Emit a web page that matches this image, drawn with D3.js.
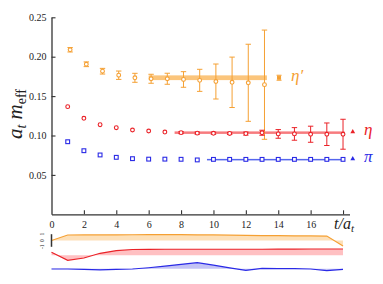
<!DOCTYPE html>
<html>
<head>
<meta charset="utf-8">
<script src="https://cdn.jsdelivr.net/npm/d3@7"></script>
<style>
body { margin: 0; background: #fff; }
text { font-family: "Liberation Serif", "DejaVu Serif", serif; }
</style>
</head>
<body>
<div id="chart-area"></div>
<script>
// effective masses vs t
var tVals = [1, 2, 3, 4, 5, 6, 7, 8, 9, 10, 11, 12, 13, 14, 15, 16, 17, 18];

var etapVals = [0.2088, 0.1904, 0.1816, 0.1765, 0.1732, 0.1720, 0.1720, 0.1711, 0.1700, 0.1685, 0.1675, 0.1669, 0.1645];
var etapErr  = [0.0028, 0.0030, 0.0036, 0.0053, 0.0057, 0.0057, 0.0070, 0.0099, 0.0140, 0.0222, 0.0320, 0.0489, 0.0693];

var etaVals = [0.1366, 0.1218, 0.1137, 0.1099, 0.1070, 0.1057, 0.1044, 0.1036, 0.1030, 0.1028, 0.1026, 0.1024, 0.1035, 0.1020, 0.1020, 0.1016, 0.1016, 0.1016];
var etaErr  = [0, 0, 0, 0, 0, 0, 0, 0.0013, 0.0013, 0.0013, 0.0013, 0.0019, 0.0032, 0.0055, 0.0080, 0.0102, 0.0143, 0.0190];

var piVals = [0.0921, 0.0807, 0.0753, 0.0723, 0.0706, 0.0700, 0.0700, 0.0698, 0.0690, 0.0697, 0.0697, 0.0697, 0.0697, 0.0697, 0.0697, 0.0697, 0.0697, 0.0697];

// fits: [tStart, tEnd, value, error]
var etapFit = [6, 13.3, 0.1733, 0.003];
var etaFit  = [7.6, 18.1, 0.1040, 0.0012];
var piFit   = [9.6, 18.1, 0.0697, 0.0006];

var yTicks = [0.05, 0.10, 0.15, 0.20, 0.25];
var xTicks = [0, 2, 4, 6, 8, 10, 12, 14, 16, 18];

// lower panel curves, t = 0..18
var tLow = [0, 1, 2, 3, 4, 5, 6, 7, 8, 9, 10, 11, 12, 13, 14, 15, 16, 17, 18];
var etapLow = [0, 0.87, 0.88, 0.89, 0.90, 0.91, 0.92, 0.92, 0.92, 0.90, 0.88, 0.85, 0.80, 0.78, 0.76, 0.74, 0.72, 0.70, -0.87];
var etaLow  = [0.48, -0.80, -0.43, 0.32, 0.73, 0.92, 0.95, 0.96, 0.96, 0.96, 0.96, 0.96, 0.96, 0.96, 0.98, 0.98, 1.0, 1.0, 1.0];
var piLow   = [-0.05, -0.05, -0.1, -0.2, -0.1, -0.05, 0.15, 0.4, 0.7, 0.95, 0.56, 0.14, -0.25, 0.05, 0, 0, -0.05, -0.3, -0.1];
var lowTicks = [1, 0, -1];

var orange = "#f5a033", orangeBand = "#fbc57c", orangeFill = "#fde0b9";
var red = "#ea2228", redFit = "#f77b7e", redFill = "#ffc0c2";
var blue = "#2a2ae6", blueFit = "#5566ee", blueFill = "#c3c3f5";
var axisColor = "#333";

var svg = d3.select("#chart-area")
.append("svg")
.attr("width", 383)
.attr("height", 284);

var x = d3.scaleLinear().domain([0, 18.4]).range([51.5, 349.5]);
var y = d3.scaleLinear().domain([0, 0.25]).range([214.3, 17.3]);

// axes
var yAxisCall = d3.axisLeft(y)
.tickValues(yTicks)
.tickSize(-4)
.tickSizeOuter(0)
.tickPadding(5)
.tickFormat(d3.format(".2f"));

var yAxisGroup = svg.append("g")
.attr("transform", "translate(" + x(0) + ",0)")
.call(yAxisCall);

var xAxisCall = d3.axisBottom(x)
.tickValues(xTicks)
.tickSize(-4)
.tickSizeOuter(0)
.tickPadding(7)
.tickFormat((d) => d === 18 ? "" : d);

var xAxisGroup = svg.append("g")
.attr("transform", "translate(0," + y(0) + ")")
.call(xAxisCall);

[xAxisGroup, yAxisGroup].forEach(function(gr) {
    gr.attr("font-family", null);
    gr.select(".domain").attr("stroke", axisColor).attr("stroke-width", 1.3);
    gr.selectAll(".tick line").attr("stroke", axisColor).attr("stroke-width", 1.1);
    gr.selectAll(".tick text").attr("fill", "#222").attr("font-size", "10px");
});
xAxisGroup.selectAll(".tick").filter(function(d) { return d === 0; }).select("line").remove();

// axis labels
var yLabel = svg.append("text")
.attr("transform", "translate(22,114) rotate(-90)")
.attr("text-anchor", "middle")
.attr("font-size", "21px")
.attr("fill", "#222");
yLabel.append("tspan").attr("font-style", "italic").text("a");
yLabel.append("tspan").attr("font-style", "italic").attr("font-size", "14px").attr("dy", 4).text("t");
yLabel.append("tspan").attr("font-style", "italic").attr("dy", -4).text(" m");
yLabel.append("tspan").attr("font-size", "14px").attr("dy", 4).text("eff");

var xLabel = svg.append("text")
.attr("x", 334)
.attr("y", 229)
.attr("font-size", "16px")
.attr("font-style", "italic")
.attr("fill", "#222");
xLabel.append("tspan").text("t/a");
xLabel.append("tspan").attr("font-size", "11px").attr("dy", 3).text("t");

// fit bands
function fitBand(fit, color, thick) {
    svg.append("rect")
    .attr("x", x(fit[0]))
    .attr("width", x(fit[1]) - x(fit[0]))
    .attr("y", y(fit[2] + fit[3]))
    .attr("height", Math.max(y(fit[2] - fit[3]) - y(fit[2] + fit[3]), thick))
    .attr("fill", color);
}
fitBand(etapFit, orangeBand, 4);
fitBand(etaFit, redFit, 2.5);
fitBand(piFit, blueFit, 1.5);

// error bars
function errorBars(vals, errs, color, shift) {
    var gr = svg.append("g").attr("stroke", color).attr("stroke-width", 1);
    vals.forEach(function(v, i) {
        var e = errs[i];
        if (!e) return;
        var cx = x(tVals[i] + shift);
        gr.append("line").attr("x1", cx).attr("x2", cx).attr("y1", y(v + e)).attr("y2", y(v - e));
        gr.append("line").attr("x1", cx - 2.7).attr("x2", cx + 2.7).attr("y1", y(v + e)).attr("y2", y(v + e));
        gr.append("line").attr("x1", cx - 2.7).attr("x2", cx + 2.7).attr("y1", y(v - e)).attr("y2", y(v - e));
    });
}
errorBars(etapVals, etapErr, orange, 0.15);
errorBars(etaVals, etaErr, red, 0);

// markers
svg.append("g").selectAll("circle").data(etapVals).enter()
.append("circle")
.attr("cx", (d, i) => x(tVals[i] + 0.15))
.attr("cy", (d) => y(d))
.attr("r", 1.9)
.attr("fill", "#fff")
.attr("stroke", orange)
.attr("stroke-width", 1.1);

svg.append("g").selectAll("circle").data(etaVals).enter()
.append("circle")
.attr("cx", (d, i) => x(tVals[i]))
.attr("cy", (d) => y(d))
.attr("r", 1.9)
.attr("fill", "#fff")
.attr("stroke", red)
.attr("stroke-width", 1.1);

svg.append("g").selectAll("rect").data(piVals).enter()
.append("rect")
.attr("x", (d, i) => x(tVals[i]) - 1.9)
.attr("y", (d) => y(d) - 1.9)
.attr("width", 3.8)
.attr("height", 3.8)
.attr("fill", "#fff")
.attr("stroke", blue)
.attr("stroke-width", 1.1);

// fit result markers and labels
var gp = svg.append("g").attr("stroke", orange).attr("stroke-width", 1);
var mx = x(etapFit[1] + 0.75), my = y(etapFit[2]);
gp.append("rect").attr("x", mx - 1.5).attr("y", my - 1.5).attr("width", 3).attr("height", 3).attr("fill", orange);
gp.append("line").attr("x1", mx - 2.5).attr("x2", mx + 2.5).attr("y1", my - 2.5).attr("y2", my - 2.5);
gp.append("line").attr("x1", mx - 2.5).attr("x2", mx + 2.5).attr("y1", my + 2.5).attr("y2", my + 2.5);

var tri = d3.symbol().type(d3.symbolTriangle).size(10);
svg.append("path").attr("d", tri).attr("fill", red)
.attr("transform", "translate(" + x(etaFit[1] + 0.5) + "," + (y(etaFit[2]) - 0.5) + ")");
svg.append("path").attr("d", tri).attr("fill", blue)
.attr("transform", "translate(" + x(piFit[1] + 0.5) + "," + (y(piFit[2]) - 0.5) + ")");

svg.append("text").attr("x", 291).attr("y", 81).attr("font-size", "17px").attr("font-style", "italic")
.attr("fill", orange).text("\u03b7\u2032");
svg.append("text").attr("x", 364).attr("y", 135).attr("font-size", "17px").attr("font-style", "italic")
.attr("fill", red).text("\u03b7");
svg.append("text").attr("x", 364).attr("y", 162).attr("font-size", "17px").attr("font-style", "italic")
.attr("fill", blue).text("\u03c0");

// lower panel
function lowCurve(vals, center, lineColor, fillColor) {
    var ly = d3.scaleLinear().domain([-1, 1]).range([center + 6.3, center - 6.3]);
    var area = d3.area()
    .x((d, i) => x(tLow[i]))
    .y0(ly(0))
    .y1((d) => ly(d));
    var line = d3.line()
    .x((d, i) => x(tLow[i]))
    .y((d) => ly(d));
    svg.append("path").datum(vals).attr("d", area).attr("fill", fillColor);
    svg.append("path").datum(vals).attr("d", line).attr("fill", "none")
    .attr("stroke", lineColor).attr("stroke-width", 1.2);
    return ly;
}
var oy = lowCurve(etapLow, 240.5, orange, orangeFill);
lowCurve(etaLow, 255.3, red, redFill);
lowCurve(piLow, 268.7, blue, blueFill);

svg.append("line")
.attr("x1", x(0)).attr("x2", x(0))
.attr("y1", oy(1)).attr("y2", oy(-1))
.attr("stroke", axisColor).attr("stroke-width", 1.5);

lowTicks.forEach(function(v) {
    svg.append("text")
    .attr("transform", "translate(42," + oy(v) + ") rotate(-90)")
    .attr("text-anchor", "middle")
    .attr("dy", "0.35em")
    .attr("font-size", "5.5px")
    .attr("fill", "#222")
    .text(v);
});
</script>
</body>
</html>
